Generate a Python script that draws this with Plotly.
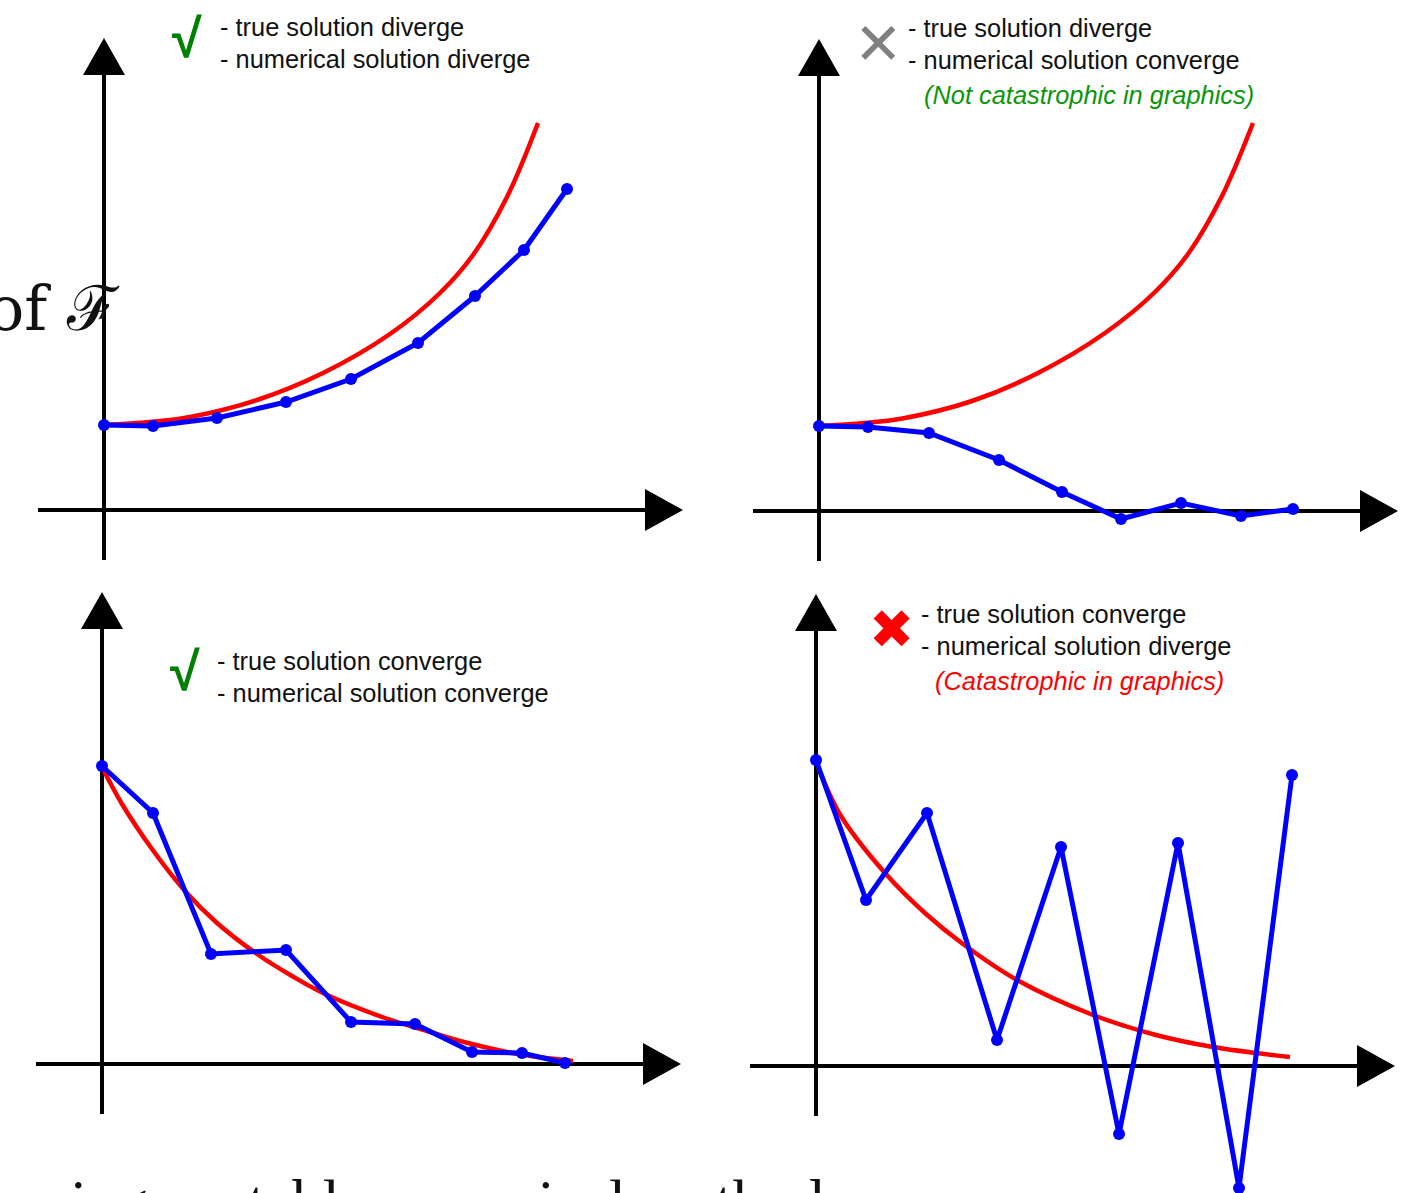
import plotly.graph_objects as go

# ---------------- data (units: 1 = 100 px, origin at axis crossing) ----------------
tl_blue_x = [0.00, 0.49, 1.13, 1.82, 2.47, 3.14, 3.71, 4.20, 4.63]
tl_blue_y = [0.85, 0.84, 0.92, 1.08, 1.31, 1.67, 2.14, 2.60, 3.21]
tl_red_x = [0.00, 0.46, 0.86, 1.53, 2.19, 2.86, 3.36, 3.69, 4.03, 4.34]
tl_red_y = [0.85, 0.88, 0.93, 1.10, 1.37, 1.76, 2.17, 2.55, 3.13, 3.87]

tr_blue_x = [0.00, 0.49, 1.10, 1.80, 2.43, 3.02, 3.62, 4.22, 4.74]
tr_blue_y = [0.85, 0.84, 0.78, 0.51, 0.19, -0.08, 0.08, -0.05, 0.02]
tr_red_x = [0.00, 0.46, 0.86, 1.53, 2.19, 2.86, 3.36, 3.69, 4.03, 4.34]
tr_red_y = [0.85, 0.88, 0.93, 1.10, 1.38, 1.78, 2.19, 2.57, 3.15, 3.88]

bl_blue_x = [0.00, 0.51, 1.09, 1.84, 2.49, 3.13, 3.70, 4.20, 4.63]
bl_blue_y = [2.98, 2.51, 1.10, 1.14, 0.42, 0.40, 0.12, 0.11, 0.01]
bl_red_x = [0.00, 0.20, 0.50, 0.83, 1.15, 1.55, 1.90, 2.23, 2.83, 3.25, 3.66, 4.16, 4.71]
bl_red_y = [2.97, 2.60, 2.15, 1.73, 1.41, 1.10, 0.88, 0.70, 0.46, 0.33, 0.21, 0.10, 0.03]

br_blue_x = [0.00, 0.50, 1.11, 1.81, 2.45, 3.03, 3.62, 4.23, 4.76]
br_blue_y = [3.06, 1.66, 2.53, 0.26, 2.19, -0.68, 2.23, -1.22, 2.91]
br_red_x = [0.02, 0.25, 0.69, 1.10, 1.47, 2.01, 2.77, 3.40, 3.97, 4.74]
br_red_y = [2.99, 2.50, 1.93, 1.52, 1.22, 0.86, 0.51, 0.31, 0.19, 0.09]

line1_texts = ["- true solution diverge", "- true solution diverge",
               "- true solution converge", "- true solution converge"]
line2_texts = ["- numerical solution diverge", "- numerical solution converge",
               "- numerical solution converge", "- numerical solution diverge"]
note_texts = [None, "(Not catastrophic in graphics)", None, "(Catastrophic in graphics)"]
symbols = ["√", "✕", "√", "✖"]

# ---------------- layout constants ----------------
W, H = 1408, 1193
PX = 100.0
# panel: (axis suffix, origin px x, origin px y, region x0, x1, y0, y1)
panels = [
    ("", 104, 510, 0, 704, 0, 575),
    ("2", 819, 511, 704, 1408, 0, 575),
    ("3", 102, 1064, 0, 704, 575, 1193),
    ("4", 816, 1066, 704, 1408, 575, 1193),
]
series = [
    (tl_blue_x, tl_blue_y, tl_red_x, tl_red_y),
    (tr_blue_x, tr_blue_y, tr_red_x, tr_red_y),
    (bl_blue_x, bl_blue_y, bl_red_x, bl_red_y),
    (br_blue_x, br_blue_y, br_red_x, br_red_y),
]

fig = go.Figure()
layout_axes = {}
shapes = []
for (suf, ox, oy, x0, x1, y0, y1), (bx, by, rx, ry) in zip(panels, series):
    xa = "x" + suf
    ya = "y" + suf
    fig.add_trace(go.Scatter(x=rx, y=ry, mode="lines",
                             line=dict(color="#ff0000", width=4.5, shape="spline", smoothing=1.0),
                             xaxis=xa, yaxis=ya, showlegend=False, hoverinfo="skip"))
    fig.add_trace(go.Scatter(x=bx, y=by, mode="lines+markers", line=dict(color="#0000ff", width=5),
                             marker=dict(color="#0000ff", size=12), cliponaxis=False,
                             xaxis=xa, yaxis=ya, showlegend=False, hoverinfo="skip"))
    ax = dict(domain=[x0 / W, x1 / W], range=[(x0 - ox) / PX, (x1 - ox) / PX], visible=False,
              fixedrange=True, anchor=ya)
    ay = dict(domain=[1 - y1 / H, 1 - y0 / H], range=[(oy - y1) / PX, (oy - y0) / PX], visible=False,
              fixedrange=True, anchor=xa)
    layout_axes["xaxis" + suf] = ax
    layout_axes["yaxis" + suf] = ay
    # drawn axes with arrowheads
    lw = dict(color="black", width=4)
    shapes.append(dict(type="line", xref=xa, yref=ya, x0=0, x1=0, y0=-0.50, y1=4.40, line=lw, layer="below"))
    shapes.append(dict(type="line", xref=xa, yref=ya, x0=-0.66, x1=5.45, y0=0, y1=0, line=lw, layer="below"))
    shapes.append(dict(type="path", xref=xa, yref=ya, path="M -0.21 4.35 L 0.21 4.35 L 0 4.72 Z",
                       fillcolor="black", line=dict(width=0)))
    shapes.append(dict(type="path", xref=xa, yref=ya, path="M 5.41 -0.21 L 5.41 0.21 L 5.79 0 Z",
                       fillcolor="black", line=dict(width=0)))

# ---------------- text annotations (pixel placement) ----------------
def px_x(v):
    return v / W

def px_y(v):
    return 1 - v / H

TXT = "#111111"
FONT = "Liberation Sans, Arial, sans-serif"
FS = 25.4
ann = []
text_pos = [  # (x left of text, y line1, y line2, y note, note center x, symbol x, symbol y, symbol color, symbol size)
    (218, 27, 59, None, None, 187, 38, "#008000", 54),
    (906, 28, 60, 95, 1089, 878, 44, "#808080", 58),
    (215, 661, 693, None, None, 185, 671, "#008000", 54),
    (919, 614, 646, 681, 1079, 891, 630, "#ff0000", 54),
]
for i, (tx, l1, l2, ln, nx, sx, sy, scol, ssz) in enumerate(text_pos):
    ann.append(dict(x=px_x(tx), y=px_y(l1), xref="paper", yref="paper", xanchor="left", yanchor="middle",
                    text=line1_texts[i], showarrow=False, font=dict(family=FONT, size=FS, color=TXT)))
    ann.append(dict(x=px_x(tx), y=px_y(l2), xref="paper", yref="paper", xanchor="left", yanchor="middle",
                    text=line2_texts[i], showarrow=False, font=dict(family=FONT, size=FS, color=TXT)))
    if note_texts[i]:
        ncol = "#0a960a" if i == 1 else "#ff0000"
        ann.append(dict(x=px_x(nx), y=px_y(ln), xref="paper", yref="paper", xanchor="center", yanchor="middle",
                        text="<i>" + note_texts[i] + "</i>", showarrow=False,
                        font=dict(family=FONT, size=FS, color=ncol)))
    sym = symbols[i]
    sfont = "Liberation Sans, Arial, sans-serif" if sym == "√" else "DejaVu Sans, sans-serif"
    stext = "<b>" + sym + "</b>" if sym == "√" else sym
    ann.append(dict(x=px_x(sx), y=px_y(sy), xref="paper", yref="paper", xanchor="center", yanchor="middle",
                    text=stext, showarrow=False, font=dict(family=sfont, size=ssz, color=scol)))

# cut-off slide text bleeding into the picture
ann.append(dict(x=px_x(122), y=px_y(308), xref="paper", yref="paper", xanchor="right", yanchor="middle",
                text="of ℱ", showarrow=False,
                font=dict(family="DejaVu Serif, Liberation Serif, serif", size=62, color="#111111")))
ann.append(dict(x=px_x(826), y=px_y(1166), xref="paper", yref="paper", xanchor="right", yanchor="top",
                text="using unstable numerical method", showarrow=False,
                font=dict(family="Liberation Serif, serif", size=61, color="#111111")))

fig.update_layout(
    width=W, height=H, margin=dict(l=0, r=0, t=0, b=0),
    paper_bgcolor="white", plot_bgcolor="rgba(0,0,0,0)",
    shapes=shapes, annotations=ann, showlegend=False,
    **layout_axes,
)
fig.write_html("out.html", config={"displayModeBar": False},
               post_script="document.body.style.margin='0';document.body.style.overflow='hidden';")
